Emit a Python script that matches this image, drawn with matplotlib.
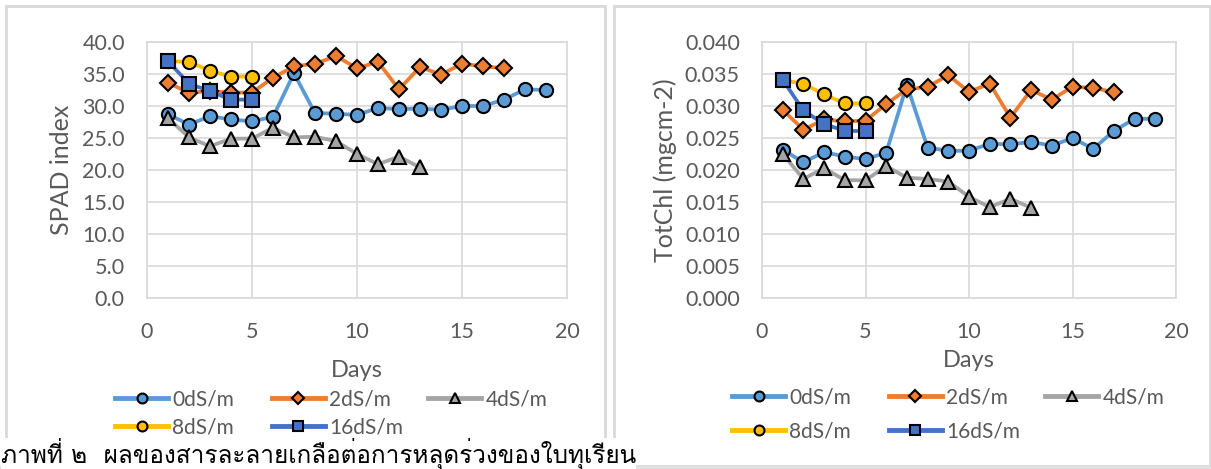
import matplotlib
matplotlib.use("Agg")
import matplotlib.pyplot as plt
from matplotlib import font_manager, ft2font
from matplotlib.patches import Rectangle
from matplotlib.lines import Line2D
from matplotlib.ticker import FormatStrFormatter, MultipleLocator

# ---- data -------------------------------------------------------------
series_names = ["0dS/m", "2dS/m", "4dS/m", "8dS/m", "16dS/m"]

days_0 = list(range(1, 20))
days_2 = list(range(1, 18))
days_4 = list(range(1, 14))
days_8 = list(range(1, 6))
days_16 = list(range(1, 6))

spad_0 = [28.7, 27.1, 28.4, 27.9, 27.6, 28.3, 35.1, 28.9, 28.8, 28.6,
          29.7, 29.5, 29.6, 29.4, 30.0, 30.0, 31.0, 32.6, 32.5]
spad_2 = [33.6, 32.1, 32.3, 32.1, 32.1, 34.4, 36.2, 36.6, 37.8, 35.9,
          36.9, 32.6, 36.1, 34.9, 36.6, 36.2, 35.9]
spad_4 = [28.1, 25.1, 23.7, 24.9, 24.9, 26.6, 25.1, 25.2, 24.5, 22.5,
          20.9, 22.1, 20.4]
spad_8 = [37.0, 36.9, 35.5, 34.6, 34.6]
spad_16 = [37.0, 33.5, 32.3, 31.0, 31.0]

chl_0 = [0.0232, 0.0212, 0.0228, 0.0221, 0.0217, 0.0227, 0.0333, 0.0235,
         0.0230, 0.0230, 0.0241, 0.0240, 0.0244, 0.0238, 0.0250, 0.0233,
         0.0261, 0.0280, 0.0280]
chl_2 = [0.0294, 0.0263, 0.0279, 0.0276, 0.0277, 0.0303, 0.0326, 0.0330,
         0.0348, 0.0322, 0.0335, 0.0282, 0.0325, 0.0310, 0.0330, 0.0328,
         0.0322]
chl_4 = [0.0225, 0.0186, 0.0203, 0.0184, 0.0184, 0.0206, 0.0188, 0.0186,
         0.0182, 0.0158, 0.0142, 0.0155, 0.0141]
chl_8 = [0.0340, 0.0335, 0.0318, 0.0304, 0.0304]
chl_16 = [0.0341, 0.0293, 0.0272, 0.0261, 0.0261]

x_ticks = [0, 5, 10, 15, 20]
caption = "ภาพที่ ๒  ผลของสารละลายเกลือต่อการหลุดร่วงของใบทุเรียน"

# ---- styling ----------------------------------------------------------
colors = ["#5B9BD5", "#ED7D31", "#A5A5A5", "#FFC000", "#4472C4"]
markers = ["o", "D", "^", "o", "s"]
msizes = [9.5, 8, 9.5, 9.5, 10]
TEXT = "#595959"
GRID = "#D9D9D9"

plt.rcParams["font.family"] = ["Lato", "DejaVu Sans"]


def thai_font():
    for f in font_manager.fontManager.ttflist:
        try:
            cmap = ft2font.FT2Font(f.fname).get_charmap()
        except Exception:
            continue
        if 0x0E20 in cmap and 0x0E52 in cmap:
            return f.name
    return None


W, H = 1211, 469
fig = plt.figure(figsize=(W / 100, H / 100), dpi=100)
fig.patch.set_facecolor("white")


def px_axes(x0, y0, x1, y1):
    return fig.add_axes([x0 / W, 1 - y1 / H, (x1 - x0) / W, (y1 - y0) / H])


# panel frames
for (x0, x1) in [(6, 605), (614, 1210)]:
    fig.add_artist(Rectangle((x0 / W, 1 - 466 / H), (x1 - x0) / W, 460 / H,
                             transform=fig.transFigure, fill=False,
                             ec=GRID, lw=2, zorder=0))
fig.add_artist(Line2D([0, 1], [1 - 467 / H] * 2, transform=fig.transFigure,
                      color="#E0E0E0", lw=2.5, zorder=0))


def draw_panel(ax, xs_list, ys_list, ymax, ystep, fmt, ylabel, xpad):
    for i, (xs, ys) in enumerate(zip(xs_list, ys_list)):
        ax.plot(xs, ys, color=colors[i], lw=2.7, marker=markers[i],
                ms=msizes[i], mfc=colors[i], mec="black", mew=1.5,
                label=series_names[i], zorder=3 + i, clip_on=False)
    ax.set_xlim(0, 20)
    ax.set_ylim(0, ymax)
    ax.set_xticks(x_ticks)
    ax.yaxis.set_major_locator(MultipleLocator(ystep))
    ax.yaxis.set_major_formatter(FormatStrFormatter(fmt))
    ax.grid(True, color=GRID, lw=1.2)
    ax.set_axisbelow(True)
    for s in ax.spines.values():
        s.set_color(GRID)
        s.set_linewidth(1.2)
    ax.tick_params(length=0, colors=TEXT, labelsize=15.5)
    ax.tick_params(axis="x", pad=17)
    ax.tick_params(axis="y", pad=16)
    ax.set_ylabel(ylabel, color=TEXT, fontsize=18)
    ax.set_xlabel("Days", color=TEXT, fontsize=17, labelpad=xpad)


ax1 = px_axes(147, 42, 567, 298)
draw_panel(ax1, [days_0, days_2, days_4, days_8, days_16],
           [spad_0, spad_2, spad_4, spad_8, spad_16], 40, 5, "%.1f",
           "SPAD index", 13)
ax1.yaxis.set_label_coords((73 - 147) / 420, 0.5)

ax2 = px_axes(762, 42, 1176, 298)
draw_panel(ax2, [days_0, days_2, days_4, days_8, days_16],
           [chl_0, chl_2, chl_4, chl_8, chl_16], 0.040, 0.005, "%.3f",
           "TotChl (mgcm-2)", 6)
ax2.yaxis.set_label_coords((677 - 762) / 414, 0.5)


def legend_handle(i):
    return Line2D([], [], color=colors[i], lw=3.5, marker=markers[i],
                  ms=msizes[i] * 0.75, mfc=colors[i], mec="black", mew=1.5)


def add_legend_row(idx, x_px, yc_px):
    leg = fig.legend([legend_handle(i) for i in idx],
                     [series_names[i] for i in idx],
                     loc="center left",
                     bbox_to_anchor=(x_px / W, 1 - yc_px / H),
                     ncol=len(idx), frameon=False, fontsize=15,
                     handlelength=2.55, handletextpad=0.2,
                     columnspacing=1.8, borderaxespad=0, borderpad=0)
    for t in leg.get_texts():
        t.set_color(TEXT)


add_legend_row([0, 1, 2], 115, 399)
add_legend_row([3, 4], 115, 427)
add_legend_row([0, 1, 2], 732, 397)
add_legend_row([3, 4], 732, 431)

thai = thai_font()
cap_family = [thai, "DejaVu Sans"] if thai else ["DejaVu Sans"]
fig.text(1 / W, 6 / H, caption, family=cap_family, fontsize=17.5,
         color="black", ha="left", va="baseline", zorder=1,
         bbox=dict(boxstyle="square,pad=0.0", fc="white", ec="none"))

fig.savefig("out.png", dpi=100)
